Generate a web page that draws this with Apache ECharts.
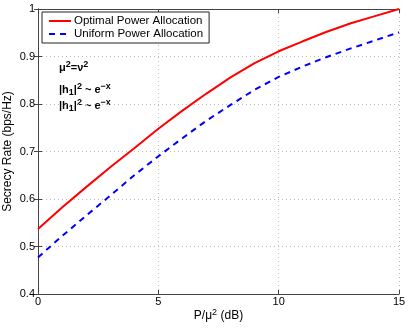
<html>
<script src="https://cdn.jsdelivr.net/npm/echarts@6/dist/echarts.min.js"></script>
<body style="margin:0">
    <div id="main" style="width:409px;height:330px;"></div>
</body>
</html>
<script>
    // P/mu^2 in dB
    var snr = [0, 1, 2, 3, 4, 5, 6, 7, 8, 9, 10, 11, 12, 13, 14, 15];
    var optimal = [0.537, 0.582, 0.625, 0.667, 0.707, 0.748, 0.786, 0.822, 0.856, 0.886, 0.911, 0.932, 0.952, 0.970, 0.985, 1.0];
    var uniform = [0.477, 0.522, 0.565, 0.607, 0.650, 0.690, 0.728, 0.765, 0.798, 0.830, 0.857, 0.879, 0.899, 0.917, 0.934, 0.951];

    var font = 'Liberation Sans';
    var chartDom = document.getElementById('main');
    var myChart = echarts.init(chartDom);

    var boxAxis = {
        axisLine: { lineStyle: { color: '#444', width: 1 } },
        axisTick: { inside: true, length: 4, lineStyle: { color: '#444' } },
    };

    var richNote = {
        b: { fontSize: 11, fontWeight: 'bold', fill: '#000', fontFamily: font },
        s: { fontSize: 9, fontWeight: 'bold', fill: '#000', fontFamily: font, verticalAlign: 'top', padding: [0, 0, 6, 0] },
        d: { fontSize: 9, fontWeight: 'bold', fill: '#000', fontFamily: font, verticalAlign: 'bottom', padding: [4, 0, 0, 0] }
    };

    var option = {
        animation: false,
        textStyle: { fontFamily: font },
        grid: { left: 38, right: 10, top: 9, bottom: 36, outerBoundsMode: 'none', containLabel: false },
        legend: {
            orient: 'vertical',
            left: 42, top: 12,
            padding: [3, 6, 3, 6],
            itemGap: 1,
            itemWidth: 22,
            itemHeight: 12,
            borderColor: '#222',
            borderWidth: 1,
            borderRadius: 0,
            backgroundColor: '#fff',
            itemStyle: { opacity: 0 },
            textStyle: { fontSize: 11.5, color: '#000', fontFamily: font, padding: [0, 0, 0, -2] },
            data: ['Optimal Power Allocation', 'Uniform Power Allocation']
        },
        xAxis: [
            Object.assign({
                type: 'value', min: 0, max: 15, interval: 5,
                name: '{a|P/μ}{s|2}{a| (dB)}',
                nameLocation: 'middle', nameGap: 14, nameMoveOverlap: false,
                nameTextStyle: {
                    rich: {
                        a: { fontSize: 12, color: '#000', fontFamily: font },
                        s: { fontSize: 9, color: '#000', fontFamily: font, verticalAlign: 'top', padding: [0, 0, 6, 0] }
                    }
                },
                axisLabel: { fontSize: 11, color: '#000', margin: 2 },
                splitLine: { show: true, lineStyle: { type: [1, 3], color: '#bbb' } }
            }, boxAxis),
            Object.assign({
                type: 'value', min: 0, max: 15, interval: 5, position: 'top',
                axisLabel: { show: false }, splitLine: { show: false }
            }, boxAxis)
        ],
        yAxis: [
            Object.assign({
                type: 'value', min: 0.4, max: 1, interval: 0.1,
                name: 'Secrecy Rate (bps/Hz)',
                nameLocation: 'middle', nameGap: 24, nameMoveOverlap: false,
                nameTextStyle: { fontSize: 12, color: '#000' },
                axisLabel: { fontSize: 11, color: '#000', margin: 3 },
                splitLine: { show: true, lineStyle: { type: [1, 3], color: '#bbb' } }
            }, boxAxis),
            Object.assign({
                type: 'value', min: 0.4, max: 1, interval: 0.1, position: 'right',
                axisLabel: { show: false }, splitLine: { show: false }
            }, boxAxis)
        ],
        graphic: [
            {
                type: 'text', left: 59, top: 60,
                style: { text: '{b|μ}{s|2}{b|=ν}{s|2}', rich: richNote }
            },
            {
                type: 'text', left: 59, top: 82,
                style: { text: '{b||h}{d|1}{b||}{s|2}{b| ~ e}{s|−x}', rich: richNote }
            },
            {
                type: 'text', left: 59, top: 98,
                style: { text: '{b||h}{d|1}{b||}{s|2}{b| ~ e}{s|−x}', rich: richNote }
            }
        ],
        series: [
            {
                name: 'Optimal Power Allocation',
                type: 'line',
                color: '#ff0000',
                showSymbol: false,
                symbol: 'none',
                lineStyle: { width: 2, color: '#ff0000' },
                data: snr.map(function (x, i) { return [x, optimal[i]]; })
            },
            {
                name: 'Uniform Power Allocation',
                type: 'line',
                color: '#0000ff',
                showSymbol: false,
                symbol: 'none',
                lineStyle: { width: 2, color: '#0000ff', type: [6, 5] },
                data: snr.map(function (x, i) { return [x, uniform[i]]; })
            }
        ]
    };

    option && myChart.setOption(option);
</script>
